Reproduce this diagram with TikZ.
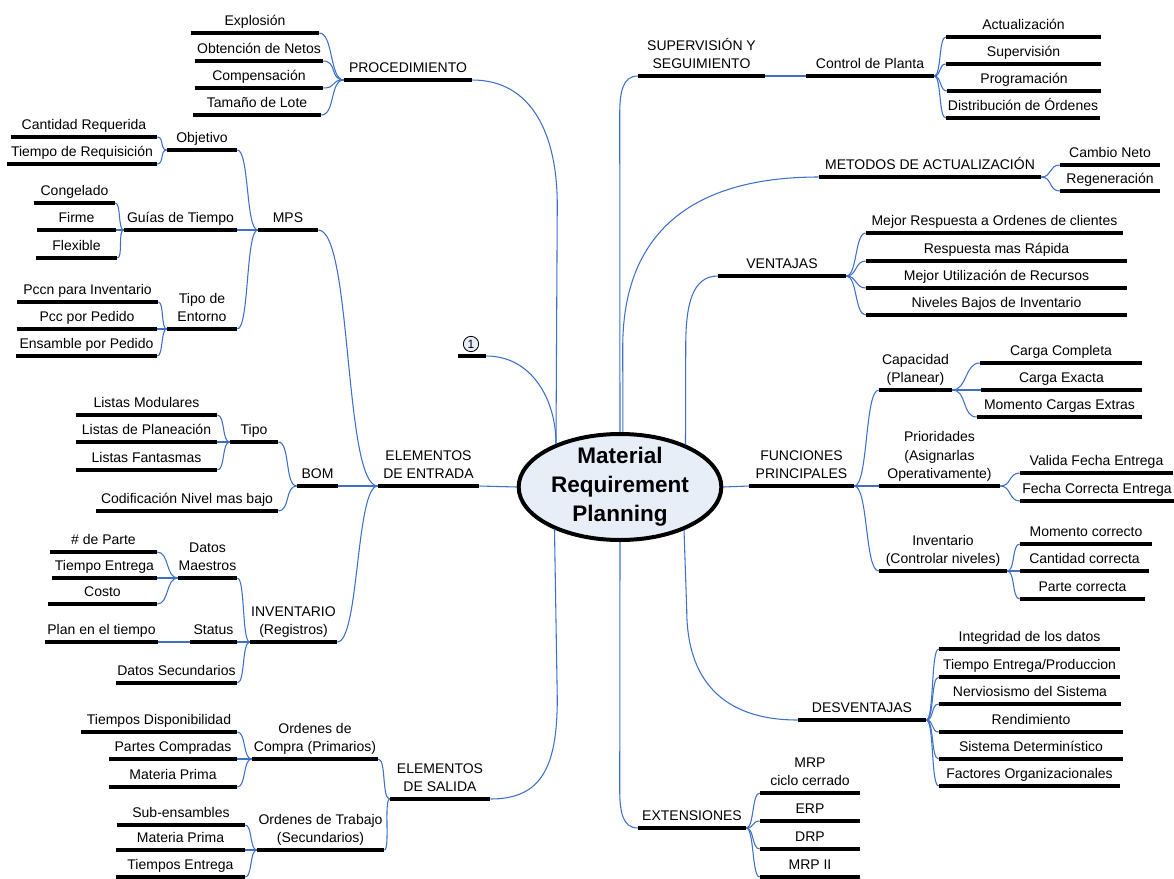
\documentclass[tikz,border=0pt]{standalone}
\usepackage{fontspec}
\setmainfont{Liberation Sans}
\usetikzlibrary{shapes.geometric}
\definecolor{conblue}{RGB}{62,112,200}
\definecolor{ellfill}{RGB}{232,238,248}
\tikzset{
  lbl/.style={inner xsep=0pt, inner ysep=5.25pt, text depth=0pt, anchor=south, align=center, font=\fontsize{10.5}{14}\selectfont},
  bar/.style={line width=3.5pt, black},
  con/.style={conblue, line width=0.8pt},
  hub/.style={ellipse, draw=black, line width=3pt, fill=ellfill, minimum width=152pt, minimum height=79.5pt, inner xsep=0pt, inner ysep=-2pt, align=center, font=\bfseries\fontsize{16.9}{21.75}\selectfont},
  numtag/.style={circle, draw=black, line width=0.6pt, fill=ellfill, inner sep=0pt, minimum size=11.5pt, font=\fontsize{9}{9}\selectfont}
}
\newcommand\mmnode[5]{%
  \node[lbl, minimum width={(#3-#2)*0.75pt}] (#1) at ({(#2+#3)/2},#4) {#5};
  \draw[bar] (#1.south west) -- (#1.south east);}
\newcommand\mmlink[3]{\draw[con] (#1.south east) .. controls +(#3,0) and +(-#3,0) .. (#2.south west);}
\begin{document}
\begin{tikzpicture}[x=0.75pt,y=-0.75pt]
\useasboundingbox (0,0) rectangle (1174,878);
% central node
\node[hub] (mrp) at (620,487) {Material\\Requirement\\Planning};

% ---------- left side ----------
\mmnode{proc}{344}{472}{80}{PROCEDIMIENTO}
\mmnode{exp}{191}{319}{33}{Explosión}
\mmnode{obt}{195}{323}{61}{Obtención de Netos}
\mmnode{comp}{195}{323}{88}{Compensación}
\mmnode{tam}{193}{321}{115}{Tamaño de Lote}

\mmnode{mps}{258}{318}{230}{MPS}
\mmnode{obj}{167}{237}{150}{Objetivo}
\mmnode{creq}{11}{157}{137}{Cantidad Requerida}
\mmnode{treq}{7}{157}{164}{Tiempo de Requisición}
\mmnode{guias}{124}{237}{230}{Guías de Tiempo}
\mmnode{cong}{34}{115}{203}{Congelado}
\mmnode{firme}{37}{116}{230}{Firme}
\mmnode{flex}{36}{117}{258}{Flexible}
\mmnode{tipoent}{167}{237}{329}{Tipo de\\Entorno}
\mmnode{pccn}{17}{158}{302}{Pccn para Inventario}
\mmnode{pcc}{17}{157}{329}{Pcc por Pedido}
\mmnode{ens}{16}{157}{356}{Ensamble por Pedido}

\mmnode{one}{458}{486}{356}{}
\node[numtag] (onenum) at (471,344) {1};

\mmnode{ent}{378}{479}{486}{ELEMENTOS\\DE ENTRADA}
\mmnode{bom}{297}{338}{486}{BOM}
\mmnode{tipo}{230}{278}{442}{Tipo}
\mmnode{lmod}{76}{217}{415}{Listas Modulares}
\mmnode{lplan}{76}{217}{442}{Listas de Planeación}
\mmnode{lfan}{76}{217}{470}{Listas Fantasmas}
\mmnode{cod}{96}{278}{511}{Codificación Nivel mas bajo}

\mmnode{inv}{250}{337}{642}{INVENTARIO\\(Registros)}
\mmnode{dm}{178}{237}{578}{Datos\\Maestros}
\mmnode{npar}{50}{157}{552}{\# de Parte}
\mmnode{tent}{52}{157}{578}{Tiempo Entrega}
\mmnode{costo}{48}{157}{604}{Costo}
\mmnode{status}{190}{237}{642}{Status}
\mmnode{plan}{45}{158}{642}{Plan en el tiempo}
\mmnode{dsec}{116}{237}{683}{Datos Secundarios}

\mmnode{sal}{390}{490}{799}{ELEMENTOS\\DE SALIDA}
\mmnode{oc}{252}{378}{759}{Ordenes de\\Compra (Primarios)}
\mmnode{tdisp}{81}{237}{732}{Tiempos Disponibilidad}
\mmnode{pcomp}{109}{237}{759}{Partes Compradas}
\mmnode{mpa}{109}{237}{787}{Materia Prima}
\mmnode{ot}{257}{384}{850}{Ordenes de Trabajo\\(Secundarios)}
\mmnode{sube}{117}{245}{825}{Sub-ensambles}
\mmnode{mpb}{116}{245}{850}{Materia Prima}
\mmnode{tentb}{116}{245}{877}{Tiempos Entrega}

% ---------- right side ----------
\mmnode{sup}{638}{765}{76}{SUPERVISIÓN Y\\SEGUIMIENTO}
\mmnode{cp}{806}{934}{76}{Control de Planta}
\mmnode{act}{946}{1101}{37}{Actualización}
\mmnode{supv}{946}{1101}{64}{Supervisión}
\mmnode{prog}{947}{1101}{91}{Programación}
\mmnode{dist}{946}{1100}{118}{Distribución de Órdenes}

\mmnode{met}{819}{1041}{177}{METODOS DE ACTUALIZACIÓN}
\mmnode{cneto}{1060}{1160}{165}{Cambio Neto}
\mmnode{regen}{1060}{1160}{191}{Regeneración}

\mmnode{ven}{718}{846}{276}{VENTAJAS}
\mmnode{va}{866}{1123}{233}{Mejor Respuesta a Ordenes de clientes}
\mmnode{vb}{866}{1127}{261}{Respuesta mas Rápida}
\mmnode{vc}{866}{1127}{288}{Mejor Utilización de Recursos}
\mmnode{vd}{866}{1127}{315}{Niveles Bajos de Inventario}

\mmnode{fun}{749}{854}{486}{FUNCIONES\\PRINCIPALES}
\mmnode{cap}{879}{952}{390}{Capacidad\\(Planear)}
\mmnode{cc}{980}{1142}{363}{Carga Completa}
\mmnode{ce}{981}{1142}{390}{Carga Exacta}
\mmnode{mce}{977}{1142}{417}{Momento Cargas Extras}
\mmnode{pri}{879}{1000}{486}{Prioridades\\(Asignarlas\\Operativamente)}
\mmnode{vfe}{1020}{1173}{473}{Valida Fecha Entrega}
\mmnode{fce}{1020}{1174}{501}{Fecha Correcta Entrega}
\mmnode{invc}{879}{1007}{571}{Inventario\\(Controlar niveles)}
\mmnode{mc}{1020}{1152}{544}{Momento correcto}
\mmnode{cac}{1020}{1149}{571}{Cantidad correcta}
\mmnode{pc}{1020}{1145}{599}{Parte correcta}

\mmnode{ds}{798}{926}{720}{DESVENTAJAS}
\mmnode{da}{939}{1120}{649}{Integridad de los datos}
\mmnode{db}{939}{1120}{677}{Tiempo Entrega/Produccion}
\mmnode{dc}{939}{1121}{704}{Nerviosismo del Sistema}
\mmnode{dd}{939}{1123}{732}{Rendimiento}
\mmnode{de}{939}{1123}{759}{Sistema Determinístico}
\mmnode{df}{939}{1120}{786}{Factores Organizacionales}

\mmnode{ext}{638}{746}{828}{EXTENSIONES}
\mmnode{ea}{760}{860}{793}{MRP\\ciclo cerrado}
\mmnode{eb}{760}{860}{821}{ERP}
\mmnode{ec}{760}{860}{849}{DRP}
\mmnode{ed}{760}{860}{877}{MRP II}

% ---------- connectors: left ----------
\mmlink{exp}{proc}{14}
\mmlink{obt}{proc}{14}
\mmlink{comp}{proc}{14}
\mmlink{tam}{proc}{14}
\mmlink{creq}{obj}{7}
\mmlink{treq}{obj}{7}
\mmlink{cong}{guias}{6}
\mmlink{firme}{guias}{6}
\mmlink{flex}{guias}{6}
\mmlink{pccn}{tipoent}{6}
\mmlink{pcc}{tipoent}{6}
\mmlink{ens}{tipoent}{6}
\mmlink{obj}{mps}{12}
\mmlink{guias}{mps}{12}
\mmlink{tipoent}{mps}{12}
\mmlink{mps}{ent}{34}
\mmlink{lmod}{tipo}{8}
\mmlink{lplan}{tipo}{8}
\mmlink{lfan}{tipo}{8}
\mmlink{tipo}{bom}{12}
\mmlink{cod}{bom}{12}
\mmlink{bom}{ent}{20}
\mmlink{npar}{dm}{12}
\mmlink{tent}{dm}{12}
\mmlink{costo}{dm}{12}
\mmlink{plan}{status}{10}
\mmlink{dm}{inv}{8}
\mmlink{status}{inv}{8}
\mmlink{dsec}{inv}{8}
\mmlink{inv}{ent}{22}
\mmlink{tdisp}{oc}{9}
\mmlink{pcomp}{oc}{9}
\mmlink{mpa}{oc}{9}
\mmlink{sube}{ot}{7}
\mmlink{mpb}{ot}{7}
\mmlink{tentb}{ot}{7}
\mmlink{oc}{sal}{8}
\mmlink{ot}{sal}{6}
% ---------- connectors: right ----------
\mmlink{sup}{cp}{20}
\mmlink{cp}{act}{7}
\mmlink{cp}{supv}{7}
\mmlink{cp}{prog}{7}
\mmlink{cp}{dist}{7}
\mmlink{met}{cneto}{11}
\mmlink{met}{regen}{11}
\mmlink{ven}{va}{11}
\mmlink{ven}{vb}{11}
\mmlink{ven}{vc}{11}
\mmlink{ven}{vd}{11}
\mmlink{fun}{cap}{14}
\mmlink{fun}{pri}{14}
\mmlink{fun}{invc}{14}
\mmlink{cap}{cc}{15}
\mmlink{cap}{ce}{15}
\mmlink{cap}{mce}{15}
\mmlink{pri}{vfe}{11}
\mmlink{pri}{fce}{11}
\mmlink{invc}{mc}{8}
\mmlink{invc}{cac}{8}
\mmlink{invc}{pc}{8}
\mmlink{ds}{da}{8}
\mmlink{ds}{db}{8}
\mmlink{ds}{dc}{8}
\mmlink{ds}{dd}{8}
\mmlink{ds}{de}{8}
\mmlink{ds}{df}{8}
\mmlink{ext}{ea}{8}
\mmlink{ext}{eb}{8}
\mmlink{ext}{ec}{8}
\mmlink{ext}{ed}{8}
% ---------- connectors: main branches ----------
\draw[con] (ent.south east) -- (mrp.west);
\draw[con] (mrp.east) -- (fun.south west);
\draw[con] (proc.south east) .. controls +(60,0) and +(0,-70) .. ++(85,125) -- (mrp.146.3);
\draw[con] (one.south east) .. controls +(45,0) and +(0,-45) .. (mrp.146.3);
\draw[con] (sal.south east) .. controls +(50,0) and +(0,70) .. ++(67,-100) -- (mrp.213.7);
\draw[con] (sup.south west) .. controls +(-15,0) and +(0,-22) .. ++(-18,38) -- (mrp.north);
\draw[con] (met.south west) .. controls +(-120,0) and +(0,-120) .. ++(-196,170) -- (mrp.87);
\draw[con] (ven.south west) .. controls +(-26,0) and +(0,-40) .. ++(-32,70) -- (mrp.33.7);
\draw[con] (ds.south west) .. controls +(-75,0) and +(0,70) .. ++(-111,-110) -- (mrp.326.3);
\draw[con] (ext.south west) .. controls +(-15,0) and +(0,22) .. ++(-18,-38) -- (mrp.south);
\end{tikzpicture}
\end{document}
